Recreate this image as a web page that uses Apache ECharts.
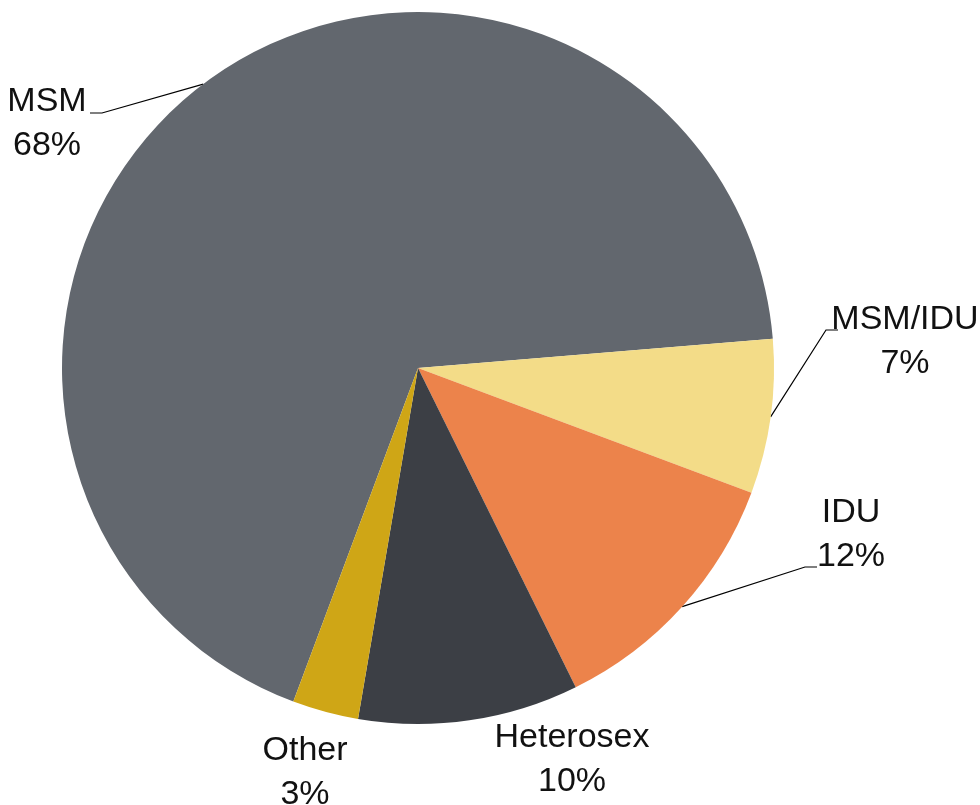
<!DOCTYPE html>
<html>
<head>
<meta charset="utf-8">
<script src="https://cdn.jsdelivr.net/npm/echarts@6/dist/echarts.min.js"></script>
<style>
  html, body { margin: 0; padding: 0; background: #fff; }
  #riskChart { width: 980px; height: 805px; }
</style>
</head>
<body>
<div id="riskChart"></div>
<script>
// transmission categories, percent of cases
const categories = ['MSM', 'MSM/IDU', 'IDU', 'Heterosex', 'Other'];
const shares = [68, 7, 12, 10, 3];
const sliceColors = ['#62676e', '#f3dc88', '#ec834b', '#3c3f45', '#cfa616'];

// where each label sits (centre of the two-line block) and its leader elbow, relative to it
const labelSpots = [
    { x: 47, y: 124, elbow: [[55, -11], [43, -11]] },
    { x: 905, y: 342, elbow: [[-79, -12], [-67, -12]] },
    { x: 851, y: 535, elbow: [[-46, 32], [-34, 32]] },
    { x: 572, y: 760, elbow: null },
    { x: 305, y: 773, elbow: null }
];

const chartDom = document.getElementById('riskChart');
const myChart = echarts.init(chartDom);

const data = categories.map((name, i) => ({
    name: name,
    value: shares[i],
    itemStyle: { color: sliceColors[i] },
    labelLine: { show: !!labelSpots[i].elbow }
}));

const options = {
    animation: false,
    series: [
        {
            type: 'pie',
            center: [418, 368],
            radius: 356,
            startAngle: 249.5,
            clockwise: true,
            avoidLabelOverlap: false,
            itemStyle: { borderWidth: 0 },
            label: {
                show: true,
                position: 'outside',
                formatter: '{b}\n{c}%',
                fontFamily: "'Liberation Sans Narrow', 'Arial Narrow', 'Liberation Sans', sans-serif",
                fontSize: 34,
                lineHeight: 44,
                color: '#111',
                align: 'center'
            },
            labelLine: {
                show: true,
                length: 20,
                length2: 10,
                lineStyle: { color: '#000', width: 1.2 }
            },
            labelLayout: function (params) {
                const spot = labelSpots[params.dataIndex];
                const out = {
                    x: spot.x,
                    y: spot.y,
                    align: 'center',
                    verticalAlign: 'middle'
                };
                if (spot.elbow && params.labelLinePoints) {
                    const start = params.labelLinePoints[0];
                    out.labelLinePoints = [
                        [start[0], start[1]],
                        [spot.x + spot.elbow[0][0], spot.y + spot.elbow[0][1]],
                        [spot.x + spot.elbow[1][0], spot.y + spot.elbow[1][1]]
                    ];
                }
                return out;
            },
            data: data
        }
    ]
};

myChart.setOption(options, true);
</script>
</body>
</html>
